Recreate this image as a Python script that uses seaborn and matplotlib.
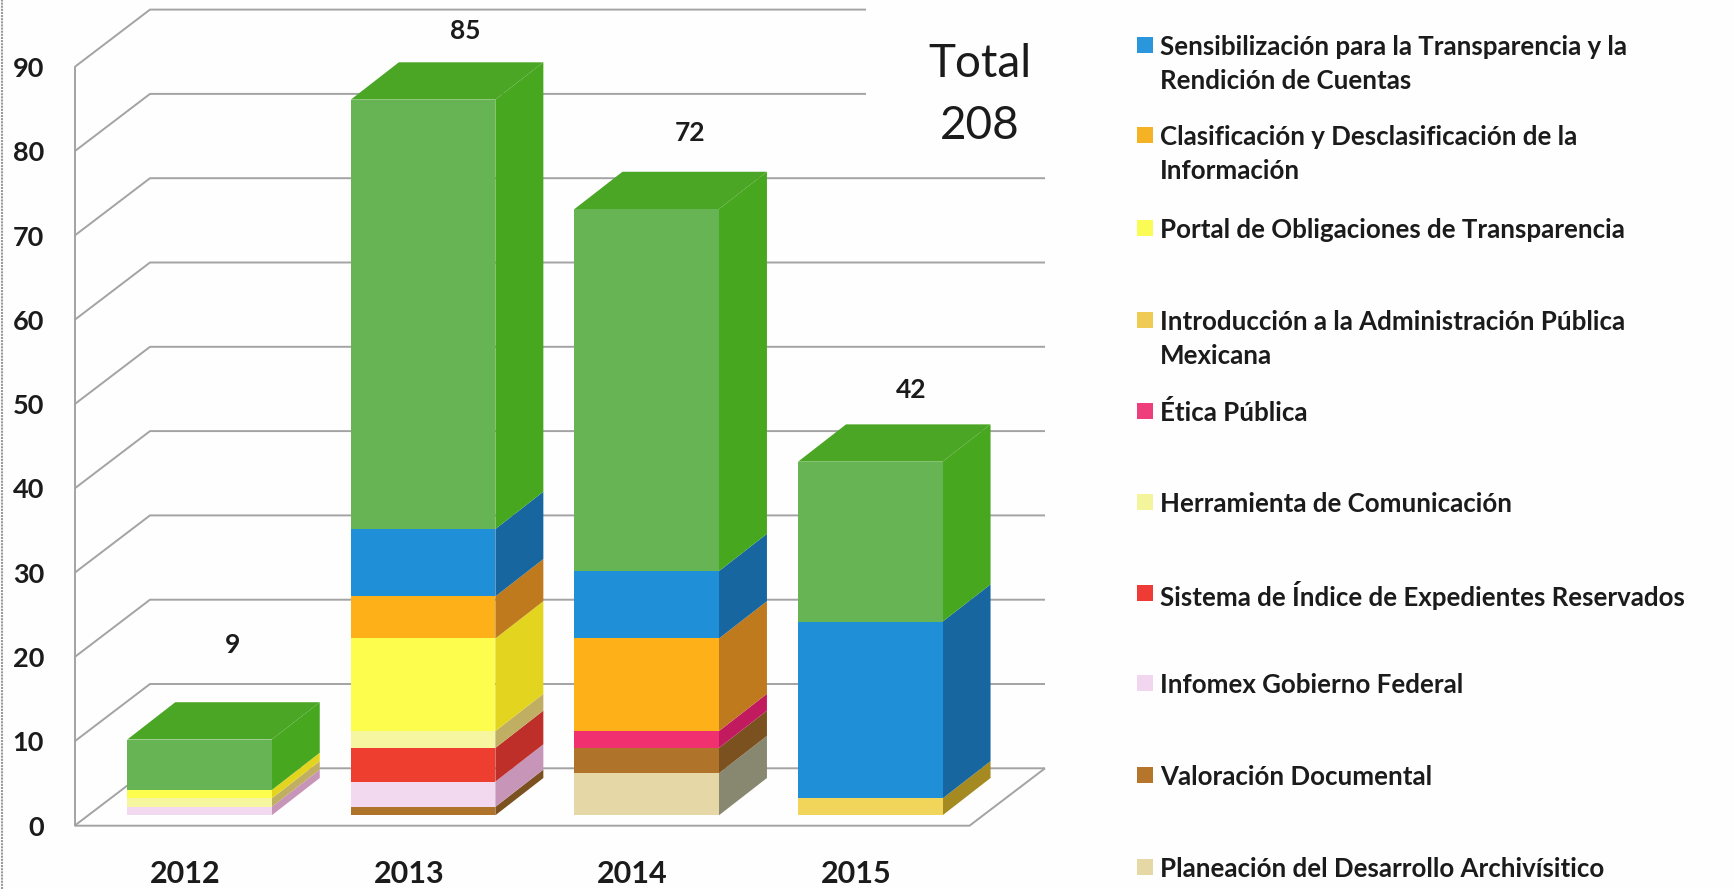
import numpy as np
import pandas as pd
import seaborn as sns
import matplotlib.pyplot as plt
from matplotlib.patches import Rectangle

years = ["2012", "2013", "2014", "2015"]
totals = [9, 85, 72, 42]
y_ticks = [0, 10, 20, 30, 40, 50, 60, 70, 80, 90]

# values bottom to top of the stack
planeacion = [0, 0, 5, 0]
valoracion = [0, 1, 3, 0]
infomex = [1, 3, 0, 0]
sistema = [0, 4, 0, 0]
herramienta = [1, 2, 0, 0]
etica = [0, 0, 2, 0]
introduccion = [0, 0, 0, 2]
portal = [1, 11, 0, 0]
clasificacion = [0, 5, 11, 0]
sensibilizacion = [0, 8, 8, 21]
verde = [6, 51, 43, 19]

series = [planeacion, valoracion, infomex, sistema, herramienta, etica,
          introduccion, portal, clasificacion, sensibilizacion, verde]
front_colors = ["#E5D8A6", "#B0732A", "#F3D9EF", "#EE3E30", "#F6F6A0", "#F0306F",
                "#F1D55B", "#FDFD4D", "#FDB017", "#1F8FD8", "#67B455"]
side_colors = ["#888870", "#7C5120", "#C795B8", "#BE2F2A", "#C0AE62", "#C21A5E",
               "#A58A22", "#E3D51F", "#BE7A1C", "#17669F", "#47A71F"]

legend_labels = [
    "Sensibilización para la Transparencia y la\nRendición de Cuentas",
    "Clasificación y Desclasificación de la\nInformación",
    "Portal de Obligaciones de Transparencia",
    "Introducción a la Administración Pública\nMexicana",
    "Ética Pública",
    "Herramienta de Comunicación",
    "Sistema de Índice de Expedientes Reservados",
    "Infomex Gobierno Federal",
    "Valoración Documental",
    "Planeación del Desarrollo Archivísitico",
]
legend_colors = ["#2A96DC", "#F5B224", "#FBFB55", "#EFCB55", "#EE3F7C",
                 "#F4F49C", "#EE3B36", "#F2D5EE", "#B5762C", "#E6D8A4"]

# pixel layout of the picture
W, H = 1734, 889
CAT_PX = 223.6
VAL_PX = 8.42
BAR0_X = 199.5
BASE_Y = 815.3
FONT = "Lato"
INK = "#1b1b1b"


def cat(px):
    return (px - BAR0_X) / CAT_PX


sns.set_theme(style="white")
plt.rcParams["font.family"] = [FONT, "DejaVu Sans"]

fig = plt.figure(figsize=(W / 100, H / 100), dpi=100, facecolor="#FEFEFE")
ax = fig.add_axes([0, 0, 1, 1])

# front faces
bottom = np.zeros(len(years))
bars = []
for values, color in zip(series, front_colors):
    sns.barplot(x=years, y=values, bottom=bottom, color=color, width=144.5 / CAT_PX,
                saturation=1, linewidth=0, errorbar=None, zorder=3, ax=ax)
    bars.append(ax.containers[-1])
    bottom = bottom + np.array(values)

ax.set_xlim(cat(0), cat(W))
ax.set_ylim((BASE_Y - H) / VAL_PX, BASE_Y / VAL_PX)
ax.axis("off")

# side and top faces, taken from the drawn bars
depth_x = 48 / CAT_PX
depth_y = 37.3 / VAL_PX
for container, side in zip(bars, side_colors):
    for patch in container.patches:
        if patch.get_height() == 0:
            continue
        x1 = patch.get_x() + patch.get_width()
        y0, y1 = patch.get_y(), patch.get_y() + patch.get_height()
        ax.fill([x1, x1 + depth_x, x1 + depth_x, x1],
                [y0, y0 + depth_y, y1 + depth_y, y1], color=side, lw=0, zorder=2)
for patch in bars[-1].patches:
    x0, x1 = patch.get_x(), patch.get_x() + patch.get_width()
    top = patch.get_y() + patch.get_height()
    ax.fill([x0, x1, x1 + depth_x, x0 + depth_x],
            [top, top, top + depth_y, top + depth_y], color="#4BA625", lw=0, zorder=2)

# walls and floor
grid = dict(color="#A3A3A3", lw=1.4, zorder=1, solid_capstyle="butt")
floor_off = -10.4 / VAL_PX
back_dy = 57.4 / VAL_PX
wall_front, wall_back = cat(74.6), cat(150)
step = 84.3 / VAL_PX / 10
for v in y_ticks:
    end = cat(866) if v >= 80 else cat(1045)
    ax.plot([wall_front, wall_back, end],
            [v * step + floor_off, v * step + floor_off + back_dy, v * step + floor_off + back_dy], **grid)
ax.plot([wall_front, wall_front], [floor_off, 90 * step + floor_off], **grid)
ax.plot([wall_front, cat(969.5), cat(1045)],
        [floor_off, floor_off, floor_off + back_dy], **grid)

# axis labels
for v in y_ticks:
    ax.text(cat(44), v * step + floor_off, str(v), ha="right", va="center_baseline",
            fontsize=19.5, weight="bold", color=INK)
for i, year in enumerate(years):
    ax.text(i - 14 / CAT_PX, (BASE_Y - 871.7) / VAL_PX, year, ha="center", va="center_baseline",
            fontsize=22, weight="bold", color=INK)

# totals over the bars
label_x = [232.7, 465, 690, 911]
label_y = [642.7, 29, 130.7, 388]
for x, y, total in zip(label_x, label_y, totals):
    ax.text(cat(x), (BASE_Y - y) / VAL_PX, str(total), ha="center", va="center_baseline",
            fontsize=19, weight="bold", color=INK)
ax.text(cat(980), (BASE_Y - 60) / VAL_PX, "Total", ha="center", va="center_baseline",
        fontsize=33, color=INK)
ax.text(cat(980), (BASE_Y - 121.7) / VAL_PX, "208", ha="center", va="center_baseline",
        fontsize=33, color=INK)

# legend, one fixed row for each entry
legend_y = [45, 135, 227.7, 320, 410.7, 502, 593, 683, 775, 867]
for y, label, color in zip(legend_y, legend_labels, legend_colors):
    fig.add_artist(Rectangle((1137 / W, 1 - (y + 8) / H), 16 / W, 16 / H, color=color, lw=0,
                             transform=fig.transFigure))
    for n, line in enumerate(label.split("\n")):
        fig.text(1160 / W, 1 - (y + n * 34) / H, line, ha="left", va="center_baseline",
                 fontsize=18.6, weight="bold", color=INK)

# scan edge
fig.add_artist(plt.Line2D([2 / W, 2 / W], [0, 1], color="#9A9A9A", lw=1.5, ls=(0, (1, 0.5))))

fig.savefig("out.png", dpi=100, facecolor=fig.get_facecolor())
